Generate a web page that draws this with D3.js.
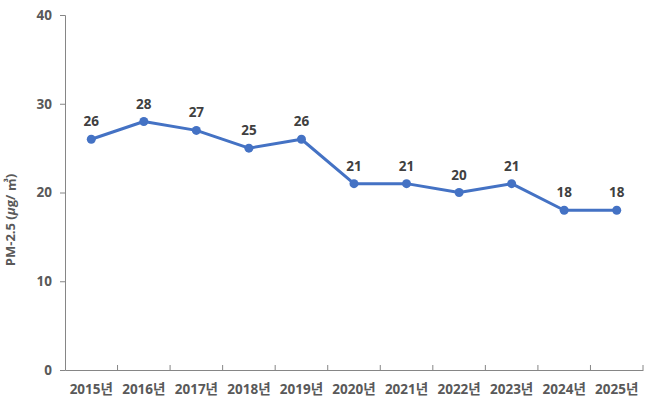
<!DOCTYPE html>
<html>
<head>
<meta charset="utf-8">
<script src="https://cdn.jsdelivr.net/npm/d3@7"></script>
<style>
  body { margin: 0; background: #fff; }
  svg text { font-family: "Open Sans", "Noto Sans CJK KR", sans-serif; font-weight: bold; }
</style>
</head>
<body>
<div id="chart"></div>
<script>
const years = ['2015년', '2016년', '2017년', '2018년', '2019년', '2020년',
  '2021년', '2022년', '2023년', '2024년', '2025년'];
const pm25 = [26, 28, 27, 25, 26, 21, 21, 20, 21, 18, 18];
const yTicks = [0, 10, 20, 30, 40];

const fullWidth = 650;
const fullHeight = 406;
const margins = {top: 15, right: 7, bottom: 36, left: 65};
const width = fullWidth - margins.left - margins.right;
const height = fullHeight - margins.top - margins.bottom;

const svg = d3.select('#chart').append('svg')
  .attr('width', fullWidth)
  .attr('height', fullHeight)
  .append('g')
    .attr('transform', `translate(${margins.left}, ${margins.top})`);

const x = d3.scaleBand().domain(years).range([0, width]);
const y = d3.scaleLinear().domain([0, 40]).range([height, 0]);

// Axes
const axisColor = '#868686';
const labelColor = '#595959';

const yAxis = svg.append('g')
  .call(d3.axisLeft(y).tickValues(yTicks).tickSize(5).tickPadding(8));
yAxis.select('.domain').attr('stroke', axisColor);
yAxis.selectAll('.tick line').attr('stroke', axisColor);
yAxis.selectAll('.tick text')
  .attr('fill', labelColor)
  .attr('font-size', '13.5px');

const xAxis = svg.append('g')
  .attr('transform', `translate(0, ${height})`)
  .call(d3.axisBottom(x).tickSize(0).tickPadding(14));
xAxis.select('.domain').attr('stroke', axisColor);
xAxis.selectAll('.tick text')
  .attr('fill', labelColor)
  .attr('font-size', '13.5px');

// Category separators pointing up from the axis
svg.append('g')
  .selectAll('line')
  .data(d3.range(1, years.length + 1))
  .enter()
  .append('line')
  .attr('x1', d => d * x.step())
  .attr('x2', d => d * x.step())
  .attr('y1', height)
  .attr('y2', height - 5)
  .attr('stroke', axisColor);

// Y axis title (sits a bit below the plot middle, as in the source)
const yTitle = svg.append('text')
  .attr('transform', 'rotate(-90)')
  .attr('x', -205)
  .attr('y', -50)
  .style('text-anchor', 'middle')
  .attr('font-size', '13px')
  .attr('fill', labelColor);
yTitle.append('tspan').text('PM-2.5 (');
yTitle.append('tspan').attr('font-style', 'italic').text('μ');
yTitle.append('tspan').text('g/ ㎥)');

// Line
const cx = d => x(d.year) + x.bandwidth() / 2;
const data = years.map((year, i) => ({year, value: pm25[i]}));

svg.append('path')
  .datum(data)
  .attr('fill', 'none')
  .attr('stroke', '#4472C4')
  .attr('stroke-width', 3)
  .attr('stroke-linejoin', 'round')
  .attr('d', d3.line().x(cx).y(d => y(d.value)));

svg.selectAll('.pt')
  .data(data)
  .enter()
  .append('circle')
  .attr('class', 'pt')
  .attr('cx', cx)
  .attr('cy', d => y(d.value))
  .attr('r', 4.5)
  .attr('fill', '#4472C4');

svg.selectAll('.lbl')
  .data(data)
  .enter()
  .append('text')
  .attr('class', 'lbl')
  .attr('x', cx)
  .attr('y', d => y(d.value) - 13)
  .style('text-anchor', 'middle')
  .attr('font-size', '13.5px')
  .attr('fill', '#404040')
  .text(d => d.value);
</script>
</body>
</html>
